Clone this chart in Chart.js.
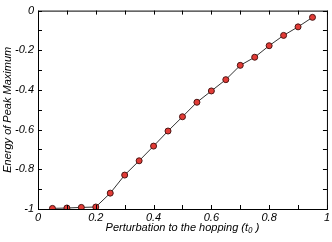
<!DOCTYPE html>
<html>
<head>
<meta charset="utf-8">
<script src="https://cdn.jsdelivr.net/npm/chart.js@4.4.0/dist/chart.umd.min.js"></script>
<style>
	html, body { margin: 0; padding: 0; background: #fff; }
	#wrap { width: 332px; height: 242px; }
</style>
</head>
<body>
<div id="wrap"><canvas id="PeakChart"></canvas></div>
<script>
// perturbation t0 and energy of the peak maximum
var hopping = [0.05,0.1,0.15,0.2,0.25,0.3,0.35,0.4,0.45,0.5,0.55,0.6,0.65,0.7,0.75,0.8,0.85,0.9,0.95];
var energy = [-0.997,-0.995,-0.992,-0.99,-0.92,-0.829,-0.757,-0.683,-0.607,-0.535,-0.462,-0.405,-0.348,-0.276,-0.235,-0.177,-0.125,-0.082,-0.034];
var xTicks = [0,0.2,0.4,0.6,0.8,1];
var yTicks = [0,-0.2,-0.4,-0.6,-0.8,-1];

var points = hopping.map(function(x, i) { return {x: x, y: energy[i]}; });
var font = {family: 'Liberation Sans', style: 'italic', size: 11};

function showMajor(list) {
	return function(v) {
		for (var i = 0; i < list.length; i++) {
			if (Math.abs(list[i] - v) < 1e-6) return String(list[i]);
		}
		return '';
	};
}

// box around the plot with inward ticks on all four sides
var frame = {
	id: 'frame',
	afterDatasetsDraw: function(chart) {
		var ctx = chart.ctx, a = chart.chartArea;
		var sx = chart.scales.x, sy = chart.scales.y;
		ctx.save();
		ctx.strokeStyle = '#000';
		ctx.lineWidth = 1;
		ctx.strokeRect(a.left + 0.5, a.top + 0.5, a.right - a.left, a.bottom - a.top);
		ctx.beginPath();
		sx.ticks.forEach(function(t) {
			var px = Math.round(sx.getPixelForValue(t.value)) + 0.5;
			ctx.moveTo(px, a.bottom); ctx.lineTo(px, a.bottom - 4);
			ctx.moveTo(px, a.top); ctx.lineTo(px, a.top + 4);
		});
		sy.ticks.forEach(function(t) {
			var py = Math.round(sy.getPixelForValue(t.value)) + 0.5;
			ctx.moveTo(a.left, py); ctx.lineTo(a.left + 4, py);
			ctx.moveTo(a.right, py); ctx.lineTo(a.right - 4, py);
		});
		ctx.stroke();
		ctx.restore();
	}
};

new Chart(document.getElementById('PeakChart'), {
	type: 'scatter',
	data: {
		datasets: [{
			data: points,
			showLine: true,
			borderColor: '#333',
			borderWidth: 1,
			pointRadius: 3,
			pointBackgroundColor: '#e23b36',
			pointBorderColor: '#4a1412',
			pointBorderWidth: 1
		}]
	},
	plugins: [frame],
	options: {
		responsive: true,
		maintainAspectRatio: false,
		animation: false,
		layout: {padding: {top: 5, right: 4, left: 0, bottom: 0}},
		plugins: {
			legend: {display: false},
			tooltip: {enabled: false}
		},
		scales: {
			x: {
				type: 'linear',
				min: 0, max: 1,
				afterFit: function(s) { s.height = 33; },
				border: {display: false},
				grid: {display: false, drawTicks: false},
				ticks: {stepSize: 0.1, autoSkip: false, maxRotation: 0, padding: 2, color: '#000', font: font, callback: showMajor(xTicks)},
				title: {display: true, text: 'Perturbation to the hopping (t\u2080 )', color: '#000', font: font, padding: {top: 0, bottom: 7}}
			},
			y: {
				type: 'linear',
				min: -1, max: 0,
				afterFit: function(s) { s.width = 38; },
				border: {display: false},
				grid: {display: false, drawTicks: false},
				ticks: {stepSize: 0.1, autoSkip: false, padding: 4, color: '#000', font: font, callback: showMajor(yTicks)},
				title: {display: true, text: 'Energy of Peak Maximum', color: '#000', font: font, padding: {top: 1, bottom: 0}}
			}
		}
	}
});
</script>
</body>
</html>
